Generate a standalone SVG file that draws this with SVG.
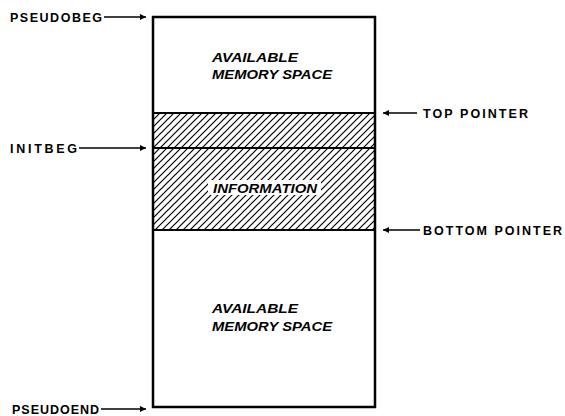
<svg xmlns="http://www.w3.org/2000/svg" width="565" height="416" viewBox="0 0 565 416">
<defs>
<pattern id="hatch" patternUnits="userSpaceOnUse" width="7" height="7">
<path d="M-1.75,1.75 L1.75,-1.75 M0,7 L7,0 M5.25,8.75 L8.75,5.25" stroke="#000" stroke-width="1.2"/>
</pattern>
<marker id="ah" viewBox="0 0 10 10" refX="10" refY="5" markerWidth="9" markerHeight="6" markerUnits="userSpaceOnUse" orient="auto">
<path d="M0,0 L10,5 L0,10 Z" fill="#000"/>
</marker>
<style>
.lbl{font-family:"Liberation Sans",Arial,sans-serif;font-size:12.5px;font-weight:bold;fill:#000}
.itl{font-family:"Liberation Sans",Arial,sans-serif;font-size:13px;font-style:italic;font-weight:600;fill:#000}
.arr{stroke:#000;stroke-width:1.6;fill:none;marker-end:url(#ah)}
</style>
</defs>
<rect width="565" height="416" fill="#fff"/>
<g id="memory">
<rect x="153" y="17" width="222" height="390" fill="#fff" stroke="#000" stroke-width="2.5"/>
<rect x="154" y="113" width="220" height="117" fill="url(#hatch)"/>
<line x1="153" y1="113" x2="375" y2="113" stroke="#000" stroke-width="1.8"/>
<line x1="153" y1="148" x2="375" y2="148" stroke="#000" stroke-width="2.2"/>
<line x1="153" y1="230" x2="375" y2="230" stroke="#000" stroke-width="1.8"/>
<rect x="208" y="180" width="113" height="15" fill="#fff"/>
</g>
<g id="avail-top">
<text class="itl" x="212" y="62" textLength="86" lengthAdjust="spacingAndGlyphs">AVAILABLE</text>
<text class="itl" x="212" y="79" textLength="120" lengthAdjust="spacingAndGlyphs">MEMORY SPACE</text>
</g>
<g id="information">
<text class="itl" x="213" y="193" textLength="104" lengthAdjust="spacingAndGlyphs">INFORMATION</text>
</g>
<g id="avail-bottom">
<text class="itl" x="212" y="313" textLength="86" lengthAdjust="spacingAndGlyphs">AVAILABLE</text>
<text class="itl" x="212" y="331" textLength="120" lengthAdjust="spacingAndGlyphs">MEMORY SPACE</text>
</g>
<g id="pseudobeg"><text class="lbl" x="10" y="21.5" textLength="92" lengthAdjust="spacing">PSEUDOBEG</text></g>
<g id="initbeg"><text class="lbl" x="10" y="153" textLength="67" lengthAdjust="spacing">INITBEG</text></g>
<g id="pseudoend"><text class="lbl" x="12" y="414" textLength="87" lengthAdjust="spacing">PSEUDOEND</text></g>
<g id="top-pointer"><text class="lbl" x="423" y="118" textLength="105" lengthAdjust="spacing">TOP POINTER</text></g>
<g id="bottom-pointer"><text class="lbl" x="423" y="234.5" textLength="139" lengthAdjust="spacing">BOTTOM POINTER</text></g>
<g id="connectors">
<line class="arr" x1="104" y1="17" x2="146" y2="17"/>
<line class="arr" x1="79" y1="148" x2="146" y2="148"/>
<line class="arr" x1="101" y1="409" x2="146" y2="409"/>
<line class="arr" x1="417" y1="113" x2="383" y2="113"/>
<line class="arr" x1="420" y1="230" x2="383" y2="230"/>
</g>
</svg>
